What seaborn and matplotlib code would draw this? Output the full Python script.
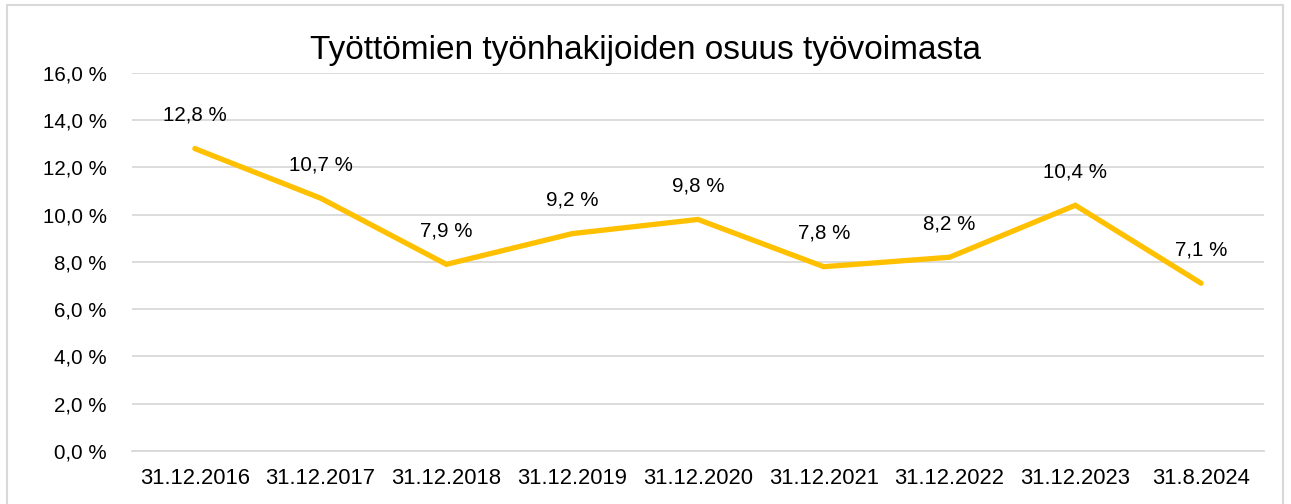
import matplotlib
matplotlib.use("Agg")
import matplotlib.pyplot as plt
import seaborn as sns
from matplotlib.patches import Rectangle

# Data
dates = ['31.12.2016', '31.12.2017', '31.12.2018', '31.12.2019', '31.12.2020',
         '31.12.2021', '31.12.2022', '31.12.2023', '31.8.2024']
share = [12.8, 10.7, 7.9, 9.2, 9.8, 7.8, 8.2, 10.4, 7.1]
yticks = [0, 2, 4, 6, 8, 10, 12, 14, 16]

sns.set_style("white")
plt.rcParams['font.family'] = ['Liberation Sans', 'DejaVu Sans']
plt.rcParams['text.color'] = 'black'

fig = plt.figure(figsize=(12.91, 5.04), dpi=100)
fig.patch.set_facecolor("white")
ax = fig.add_axes([0.1022, 0.1052, 0.9791 - 0.1022, 0.8552 - 0.1052])

sns.lineplot(x=dates, y=share, sort=False, color='#FFC000', linewidth=3.8,
             solid_capstyle='round', solid_joinstyle='miter', ax=ax)

ax.set_xlim(-0.5, len(dates) - 0.5)
ax.set_ylim(0, 16)
ax.set_yticks(yticks)
ax.set_yticklabels([f"{v:.1f} %".replace('.', ',') for v in yticks])
ax.yaxis.grid(True, color='#D9D9D9', linewidth=1.3)
ax.set_axisbelow(True)
for s in ['top', 'right', 'left']:
    ax.spines[s].set_visible(False)
ax.spines['bottom'].set_color('#D9D9D9')
ax.spines['bottom'].set_linewidth(1.3)
ax.tick_params(axis='y', length=0, pad=18, labelsize=14.8, colors='black')
ax.tick_params(axis='x', length=0, pad=12, labelsize=15.8, colors='black')
ax.set_xlabel('')
ax.set_ylabel('')

for i, v in enumerate(share):
    ax.annotate(f"{v:.1f} %".replace('.', ','), (i, v), xytext=(0, 24),
                textcoords='offset points', ha='center', va='center',
                fontsize=14.8, color='black')

fig.text(0.5, 0.9, 'Työttömien työnhakijoiden osuus työvoimasta',
         ha='center', va='center', fontsize=24, color='black',
         family=['Liberation Sans Narrow', 'Liberation Sans'])

# chart border
fig.patches.append(Rectangle((7 / 1291, -0.1), (1283 - 7) / 1291, 1.09,
                             transform=fig.transFigure, fill=False,
                             edgecolor='#D9D9D9', linewidth=1.5))

fig.savefig('out.png', dpi=100)
